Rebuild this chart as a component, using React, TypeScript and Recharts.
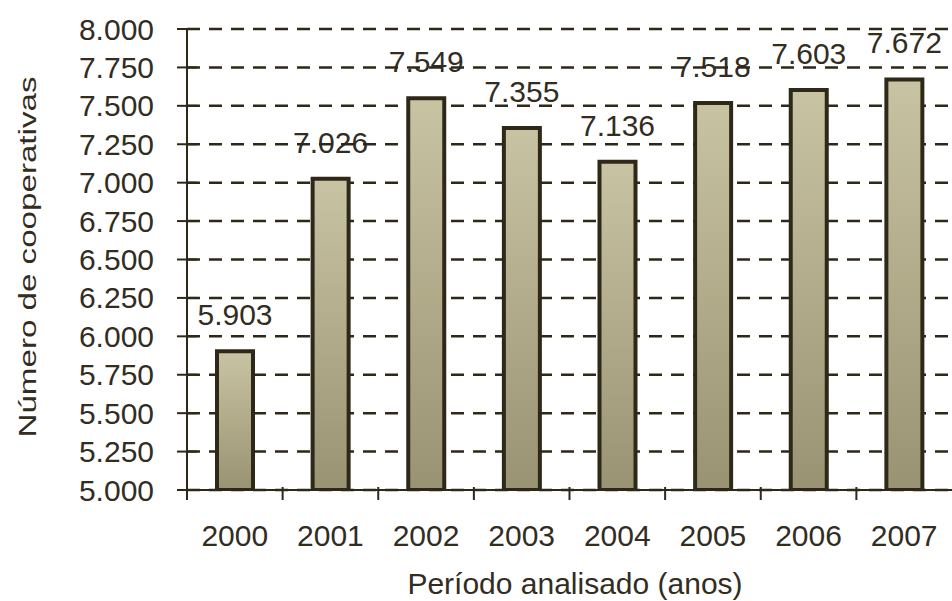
import React from "react";
import { BarChart, Bar, XAxis, YAxis, CartesianGrid, LabelList, Label } from "recharts";

const years = ["2000", "2001", "2002", "2003", "2004", "2005", "2006", "2007"];
const cooperativas = [5903, 7026, 7549, 7355, 7136, 7518, 7603, 7672];
const yTicks = [5000, 5250, 5500, 5750, 6000, 6250, 6500, 6750, 7000, 7250, 7500, 7750, 8000];

const data = years.map((year, i) => ({ year, value: cooperativas[i] }));

const W = 952;
const H = 601;
const AXIS_W = 187;
const XAXIS_H = 111;
const TOP = 29;
const BAND = (W - AXIS_W) / years.length;

const INK = "#322d1f";
const LINE = "#2e2818";
const FONT = "'Liberation Sans', Arial, sans-serif";

// pt-BR style thousands separator: 7549 -> "7.549"
const fmt = (v: number) => (v / 1000).toFixed(3);

const YTick = (props: any) => {
  const { x, y, payload } = props;
  return (
    <g>
      <line x1={x - 10} x2={x + 10} y1={y} y2={y} stroke={LINE} strokeWidth={2} />
      <text x={x - 33} y={y} dy={10.5} textAnchor="end" fontSize={30} fill={INK} fontFamily={FONT}>
        {fmt(payload.value)}
      </text>
    </g>
  );
};

const XTick = (props: any) => {
  const { x, y, payload } = props;
  const left = x - BAND / 2;
  return (
    <g>
      <line x1={left} x2={left} y1={y - 3} y2={y + 10} stroke={LINE} strokeWidth={2} />
      <text x={x} y={y} dy={56} textAnchor="middle" fontSize={30} fill={INK} fontFamily={FONT}>
        {payload.value}
      </text>
    </g>
  );
};

const ValueLabel = (props: any) => {
  const { x, y, width, value } = props;
  return (
    <text x={x + width / 2} y={y - 26} textAnchor="middle" fontSize={30} fill={INK} fontFamily={FONT}>
      {fmt(value)}
    </text>
  );
};

const YTitle = () => (
  <text
    transform="translate(36, 257) rotate(-90)"
    textAnchor="middle"
    fontSize={23}
    fill={INK}
    fontFamily={FONT}
    textLength={361}
    lengthAdjust="spacingAndGlyphs"
  >
    Número de cooperativas
  </text>
);

const XTitle = () => (
  <text x={575} y={594} textAnchor="middle" fontSize={30} fill={INK} fontFamily={FONT}>
    Período analisado (anos)
  </text>
);

export default function App() {
  const layer: React.CSSProperties = { position: "absolute", left: 0, top: 0 };
  return (
    <div
      style={{
        position: "absolute",
        left: 0,
        top: 0,
        width: W,
        height: H,
        overflow: "hidden",
        background: "#ffffff",
      }}
    >
      {/* bottom layer: value labels, so the dashed grid runs over them like the original */}
      <div style={layer}>
        <BarChart
          width={W}
          height={H}
          data={data}
          margin={{ top: TOP, right: 0, left: AXIS_W, bottom: XAXIS_H }}
          barSize={36}
        >
          <XAxis dataKey="year" hide />
          <YAxis domain={[5000, 8000]} ticks={yTicks} hide allowDataOverflow />
          <Bar dataKey="value" fill="transparent" isAnimationActive={false}>
            <LabelList dataKey="value" content={ValueLabel} />
          </Bar>
        </BarChart>
      </div>

      {/* top layer: grid, axes, bars */}
      <div style={layer}>
        <BarChart
          width={W}
          height={H}
          data={data}
          margin={{ top: TOP, right: 0, left: 0, bottom: 0 }}
          barSize={36}
        >
          <defs>
            <linearGradient id="barFill" x1="0" y1="0" x2="0" y2="1">
              <stop offset="0%" stopColor="#c8c3a2" />
              <stop offset="100%" stopColor="#9a9373" />
            </linearGradient>
          </defs>
          <CartesianGrid
            vertical={false}
            stroke={LINE}
            strokeWidth={2.5}
            strokeDasharray="13 9"
          />
          <XAxis
            dataKey="year"
            height={XAXIS_H}
            tick={XTick}
            tickLine={false}
            tickSize={0}
            tickMargin={0}
            axisLine={{ stroke: LINE, strokeWidth: 2 }}
            interval={0}
          >
            <Label content={XTitle} />
          </XAxis>
          <YAxis
            width={AXIS_W}
            domain={[5000, 8000]}
            ticks={yTicks}
            allowDataOverflow
            tick={YTick}
            tickLine={false}
            tickSize={0}
            tickMargin={0}
            axisLine={{ stroke: LINE, strokeWidth: 2 }}
            interval={0}
          >
            <Label content={YTitle} />
          </YAxis>
          <Bar
            dataKey="value"
            fill="url(#barFill)"
            stroke={LINE}
            strokeWidth={4}
            isAnimationActive={false}
          />
        </BarChart>
      </div>
    </div>
  );
}
